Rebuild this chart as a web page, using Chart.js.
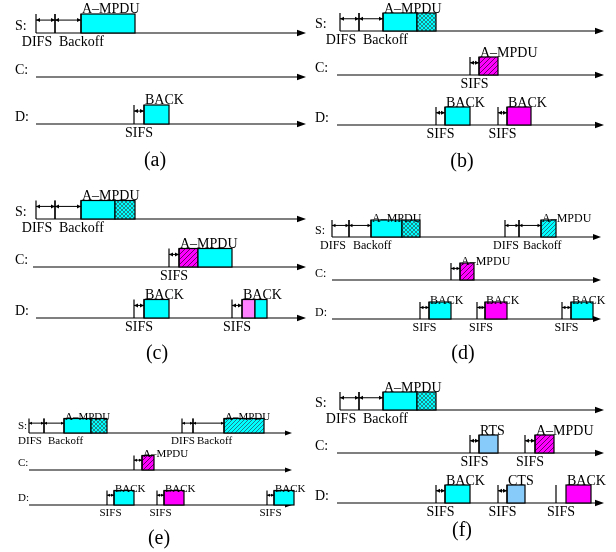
<!DOCTYPE html>
<html>
<head>
<meta charset="utf-8">
<script src="https://cdn.jsdelivr.net/npm/chart.js@4.4.1/dist/chart.umd.min.js"></script>
<style>
  html, body { margin: 0; padding: 0; background: #fff; }
  #wrap { position: relative; width: 616px; height: 552px; }
  .panel { position: absolute; width: 308px; height: 184px; }
</style>
</head>
<body>
<div id="wrap">
  <div class="panel" style="left:0;top:0"><canvas id="pa" width="308" height="184"></canvas></div>
  <div class="panel" style="left:308px;top:0"><canvas id="pb" width="308" height="184"></canvas></div>
  <div class="panel" style="left:0;top:184px"><canvas id="pc" width="308" height="184"></canvas></div>
  <div class="panel" style="left:308px;top:184px"><canvas id="pd" width="308" height="184"></canvas></div>
  <div class="panel" style="left:0;top:368px"><canvas id="pe" width="308" height="184"></canvas></div>
  <div class="panel" style="left:308px;top:368px"><canvas id="pf" width="308" height="184"></canvas></div>
</div>
<script>
// stations, one time line each
const rowNames = ['S:', 'C:', 'D:'];
const rowIndex = { S: 0, C: 1, D: 2 };
const captions = ['(a)', '(b)', '(c)', '(d)', '(e)', '(f)'];

// frames: [station, start, end, fill, label]
const boxesA = [
  ['S', 81, 135, 'cyan', 'A–MPDU'],
  ['D', 144, 169, 'cyan', 'BACK']
];
const boxesB = [
  ['S', 75, 109, 'cyan', 'A–MPDU'], ['S', 109, 128, 'cyanX', ''],
  ['C', 171, 190, 'magentaH', 'A–MPDU'],
  ['D', 137, 162, 'cyan', 'BACK'], ['D', 199, 223, 'magenta', 'BACK']
];
const boxesC = [
  ['S', 81, 115, 'cyan', 'A–MPDU'], ['S', 115, 135, 'cyanX', ''],
  ['C', 179, 198, 'magentaH', 'A–MPDU'], ['C', 198, 232, 'cyan', ''],
  ['D', 144, 169, 'cyan', 'BACK'], ['D', 242, 255, 'pink', 'BACK'], ['D', 255, 267, 'cyan', '']
];
const boxesD = [
  ['S', 63, 94, 'cyan', 'A–MPDU'], ['S', 94, 112, 'cyanX', ''], ['S', 233, 248, 'cyanH', 'A–MPDU'],
  ['C', 152, 166, 'magentaH', 'A–MPDU'],
  ['D', 121, 143, 'cyan', 'BACK'], ['D', 177, 199, 'magenta', 'BACK'], ['D', 263, 285, 'cyan', 'BACK']
];
const boxesE = [
  ['S', 64, 91, 'cyan', 'A–MPDU'], ['S', 91, 107, 'cyanX', ''], ['S', 224, 264, 'cyanH', 'A–MPDU'],
  ['C', 142, 154, 'magentaH', 'A–MPDU'],
  ['D', 114, 134, 'cyan', 'BACK'], ['D', 164, 184, 'magenta', 'BACK'], ['D', 274, 294, 'cyan', 'BACK']
];
const boxesF = [
  ['S', 75, 109, 'cyan', 'A–MPDU'], ['S', 109, 128, 'cyanX', ''],
  ['C', 171, 190, 'blue', 'RTS'], ['C', 227, 246, 'magentaH', 'A–MPDU'],
  ['D', 137, 162, 'cyan', 'BACK'], ['D', 199, 217, 'blue', 'CTS'], ['D', 258, 283, 'magenta', 'BACK']
];

// idle intervals: [station, start, end, label, label mode, arrow]
const gapsA = [
  ['S', 36, 55, 'DIFS', 'd', true], ['S', 55, 81, 'Backoff', 'l', true],
  ['D', 134, 144, 'SIFS', 'c', true]
];
const gapsB = [
  ['S', 32, 51, 'DIFS', 'd', true], ['S', 51, 75, 'Backoff', 'l', true],
  ['C', 162, 171, 'SIFS', 'c', true],
  ['D', 128, 137, 'SIFS', 'c', true], ['D', 190, 199, 'SIFS', 'c', true]
];
const gapsC = [
  ['S', 36, 55, 'DIFS', 'd', true], ['S', 55, 81, 'Backoff', 'l', true],
  ['C', 169, 179, 'SIFS', 'c', true],
  ['D', 134, 144, 'SIFS', 'c', true], ['D', 232, 242, 'SIFS', 'c', true]
];
const gapsD = [
  ['S', 24, 41, 'DIFS', 'd', true], ['S', 41, 63, 'Backoff', 'l', true],
  ['S', 197, 211, 'DIFS', 'd', true], ['S', 211, 233, 'Backoff', 'l', true],
  ['C', 143, 152, '', '', true],
  ['D', 112, 121, 'SIFS', 'c', true], ['D', 169, 177, 'SIFS', 'c', true], ['D', 254, 263, 'SIFS', 'c', true]
];
const gapsE = [
  ['S', 29, 44, 'DIFS', 'd', true], ['S', 44, 64, 'Backoff', 'l', true],
  ['S', 182, 193, 'DIFS', 'd', true], ['S', 193, 224, 'Backoff', 'l', true],
  ['C', 134, 142, '', '', true],
  ['D', 107, 114, 'SIFS', 'c', true], ['D', 157, 164, 'SIFS', 'c', true], ['D', 267, 274, 'SIFS', 'c', true]
];
const gapsF = [
  ['S', 32, 51, 'DIFS', 'd', true], ['S', 51, 75, 'Backoff', 'l', true],
  ['C', 162, 171, 'SIFS', 'c', true], ['C', 217, 227, 'SIFS', 'c', true],
  ['D', 128, 137, 'SIFS', 'c', true], ['D', 190, 199, 'SIFS', 'c', true], ['D', 248, 258, 'SIFS', 'c', false]
];

// layout of each panel (scale units, not data)
const panels = [
  { id: 'pa', boxes: boxesA, gaps: gapsA, rowY: [33, 77, 124], axisStart: [36, 36, 36], axisEnd: 306, boxH: 19, font: 14, rowLabelX: 15, capX: 155, capY: 161, lift: 1.5, below: 12.5, head: 9, tip: 4 },
  { id: 'pb', boxes: boxesB, gaps: gapsB, rowY: [31, 75, 125], axisStart: [32, 29, 29], axisEnd: 296, boxH: 18, font: 14, rowLabelX: 7, capX: 154, capY: 162, lift: 0.5, below: 13, head: 9, tip: 4 },
  { id: 'pc', boxes: boxesC, gaps: gapsC, rowY: [35, 83, 134], axisStart: [36, 33, 36], axisEnd: 306, boxH: 18.5, font: 14, rowLabelX: 15, capX: 157, capY: 170, lift: 0.5, below: 13, head: 9, tip: 4 },
  { id: 'pd', boxes: boxesD, gaps: gapsD, rowY: [53, 96, 135], axisStart: [24, 24, 24], axisEnd: 293, boxH: 17, font: 12, rowLabelX: 7, capX: 155, capY: 170, lift: -1.5, below: 12, head: 8, tip: 3.5 },
  { id: 'pe', boxes: boxesE, gaps: gapsE, rowY: [65, 102, 137], axisStart: [29, 29, 29], axisEnd: 292, boxH: 14.5, font: 11, rowLabelX: 18, capX: 159, capY: 171, lift: -1, below: 10.5, head: 7, tip: 3 },
  { id: 'pf', boxes: boxesF, gaps: gapsF, rowY: [42, 85, 135], axisStart: [32, 29, 29], axisEnd: 296, boxH: 18, font: 14, rowLabelX: 7, capX: 154, capY: 163, lift: 0, below: 13, head: 9, tip: 4 }
];

const SERIF = '"Liberation Serif", "Times New Roman", Times, serif';

function hatch(ctx, bg, fg, step, cross) {
  const c = document.createElement('canvas');
  c.width = c.height = step;
  const g = c.getContext('2d');
  g.fillStyle = bg;
  g.fillRect(0, 0, step, step);
  g.strokeStyle = fg;
  g.lineWidth = 0.9;
  g.beginPath();
  g.moveTo(-1, step + 1); g.lineTo(step + 1, -1);
  if (cross) { g.moveTo(-1, -1); g.lineTo(step + 1, step + 1); }
  g.stroke();
  return ctx.createPattern(c, 'repeat');
}

function fills(ctx) {
  return {
    cyan: '#00ffff',
    magenta: '#ff00ff',
    pink: '#ff80ff',
    blue: '#87cbfa',
    cyanX: hatch(ctx, '#00ffff', '#1f7f80', 4, true),
    cyanH: hatch(ctx, '#00ffff', '#1f6f80', 4, false),
    magentaH: hatch(ctx, '#ff00ff', '#5a005a', 5, false)
  };
}

function line(ctx, x1, y1, x2, y2) {
  ctx.beginPath(); ctx.moveTo(x1, y1); ctx.lineTo(x2, y2); ctx.stroke();
}

function head(ctx, x, y, dir, len, half) {
  ctx.beginPath();
  ctx.moveTo(x, y);
  ctx.lineTo(x - dir * len, y - half);
  ctx.lineTo(x - dir * len, y + half);
  ctx.closePath();
  ctx.fill();
}

function timingPlugin(p, caption) {
  return {
    id: 'timing',
    afterDraw(chart) {
      const ctx = chart.ctx;
      const xs = chart.scales.x, ys = chart.scales.y;
      const X = v => xs.getPixelForValue(v);
      const Y = v => ys.getPixelForValue(v);
      const f = fills(ctx);
      ctx.save();
      ctx.strokeStyle = '#000';
      ctx.fillStyle = '#000';
      ctx.lineWidth = 1.2;

      // time lines
      ctx.font = p.font + 'px ' + SERIF;
      ctx.textBaseline = 'alphabetic';
      p.rowY.forEach((ry, i) => {
        const y = Y(ry);
        line(ctx, X(p.axisStart[i]), y, X(p.axisEnd) - p.head + 1, y);
        head(ctx, X(p.axisEnd), y, 1, p.head, p.head * 0.36);
        ctx.textAlign = 'left';
        ctx.fillText(rowNames[i], X(p.rowLabelX), Y(ry - (p.id === 'pe' ? 4 : 3)));
      });

      // frames
      p.boxes.forEach(b => {
        const ry = p.rowY[rowIndex[b[0]]];
        const x1 = X(b[1]), x2 = X(b[2]);
        const y1 = Y(ry - p.boxH), y2 = Y(ry);
        ctx.fillStyle = f[b[3]];
        ctx.fillRect(x1, y1, x2 - x1, y2 - y1);
        ctx.strokeRect(x1, y1, x2 - x1, y2 - y1);
      });

      // idle intervals
      ctx.fillStyle = '#000';
      p.gaps.forEach(g => {
        const ry = p.rowY[rowIndex[g[0]]];
        const y0 = Y(ry), yt = Y(ry - p.boxH);
        const x1 = X(g[1]), x2 = X(g[2]);
        line(ctx, x1, y0, x1, yt);
        if (g[5]) {
          line(ctx, x2, y0, x2, yt);
          const ya = Y(ry - p.boxH * 0.68);
          ctx.lineWidth = 1;
          line(ctx, x1, ya, x2, ya);
          head(ctx, x1, ya, -1, p.tip, p.tip * 0.5);
          head(ctx, x2, ya, 1, p.tip, p.tip * 0.5);
          ctx.lineWidth = 1.2;
        }
        if (g[3]) {
          const yl = Y(ry + p.below);
          if (g[4] === 'c') { ctx.textAlign = 'center'; ctx.fillText(g[3], (x1 + x2) / 2, yl); }
          else if (g[4] === 'd') { ctx.textAlign = 'center'; ctx.fillText(g[3], x1 + 1, yl); }
          else { ctx.textAlign = 'left'; ctx.fillText(g[3], x1 + 4, yl); }
        }
      });

      // frame names
      ctx.textAlign = 'left';
      p.boxes.forEach(b => {
        if (!b[4]) return;
        const ry = p.rowY[rowIndex[b[0]]];
        ctx.fillText(b[4], X(b[1] + 1), Y(ry - p.boxH - p.lift));
      });

      // caption
      ctx.font = '20px ' + SERIF;
      ctx.textAlign = 'center';
      ctx.textBaseline = 'middle';
      ctx.fillText(caption, X(p.capX), Y(p.capY));
      ctx.restore();
    }
  };
}

panels.forEach((p, i) => {
  new Chart(document.getElementById(p.id), {
    type: 'scatter',
    data: { datasets: [{ data: [] }] },
    options: {
      responsive: false,
      animation: false,
      events: [],
      layout: { padding: 0 },
      plugins: { legend: { display: false }, tooltip: { enabled: false } },
      scales: {
        x: { type: 'linear', min: 0, max: 308, display: false },
        y: { type: 'linear', min: 0, max: 184, reverse: true, display: false }
      }
    },
    plugins: [timingPlugin(p, captions[i])]
  });
});
</script>
</body>
</html>
